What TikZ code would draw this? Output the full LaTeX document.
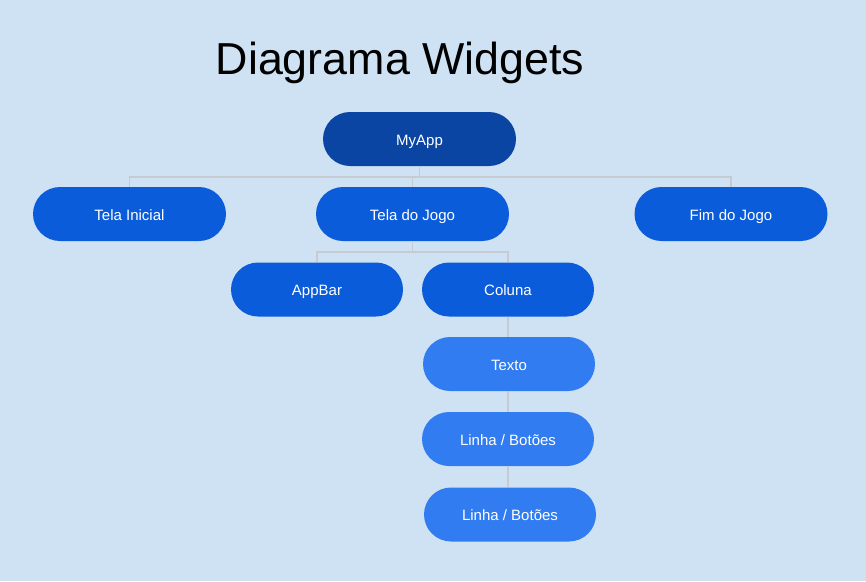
\documentclass[tikz,border=0pt]{standalone}
\usepackage{fontspec}
\setmainfont{Liberation Sans}
\definecolor{bg}{HTML}{CFE2F3}
\definecolor{lvlA}{HTML}{0B45A4}
\definecolor{lvlB}{HTML}{0B5CDB}
\definecolor{lvlC}{HTML}{317CF0}
\definecolor{conn}{HTML}{C6CBD1}
\tikzset{
  pill/.style={draw=none, rounded corners=27pt, minimum height=54pt, text=white,
    font=\fontsize{15pt}{18pt}\selectfont, inner sep=0pt, text height=12pt, text depth=0pt},
  wideP/.style={pill, minimum width=193pt},
  narrowP/.style={pill, minimum width=172pt},
  connline/.style={draw=conn, line width=1.3pt}
}
\begin{document}
\begin{tikzpicture}[x=1pt,y=-1pt]
\fill[bg] (0,0) rectangle (866,581);
\useasboundingbox (0,0) rectangle (866,581);
\node[font=\fontsize{44.8pt}{50pt}\selectfont, text=black, inner sep=0pt] (title) at (400,63) {Diagrama Widgets};
\node[wideP, fill=lvlA] (myapp) at (419.5,139) {MyApp};
\node[wideP, fill=lvlB] (ini) at (129.5,214) {Tela Inicial};
\node[wideP, fill=lvlB] (jogo) at (412.5,214) {Tela do Jogo};
\node[wideP, fill=lvlB] (fim) at (731,214) {Fim do Jogo};
\node[narrowP, fill=lvlB] (appbar) at (317,289.5) {AppBar};
\node[narrowP, fill=lvlB] (coluna) at (508,289.5) {Coluna};
\node[narrowP, fill=lvlC] (texto) at (509,364) {Texto};
\node[narrowP, fill=lvlC] (linhaA) at (508,439) {Linha / Botões};
\node[narrowP, fill=lvlC] (linhaB) at (510,514.5) {Linha / Botões};
\coordinate (b1) at (419.5,177);
\coordinate (b2) at (412.5,252);
\draw[connline] (myapp.south) -- (b1);
\draw[connline] (ini.north) |- (b1);
\draw[connline] (fim.north) |- (b1);
\draw[connline] (jogo.north) -- (jogo.north |- b1);
\draw[connline] (jogo.south) -- (b2);
\draw[connline] (appbar.north) |- (b2);
\draw[connline] (coluna.north) |- (b2);
\draw[connline] (coluna.south) -- (coluna.south |- texto.north);
\draw[connline] (linhaA.north |- texto.south) -- (linhaA.north);
\draw[connline] (linhaA.south) -- (linhaA.south |- linhaB.north);
\end{tikzpicture}
\end{document}
